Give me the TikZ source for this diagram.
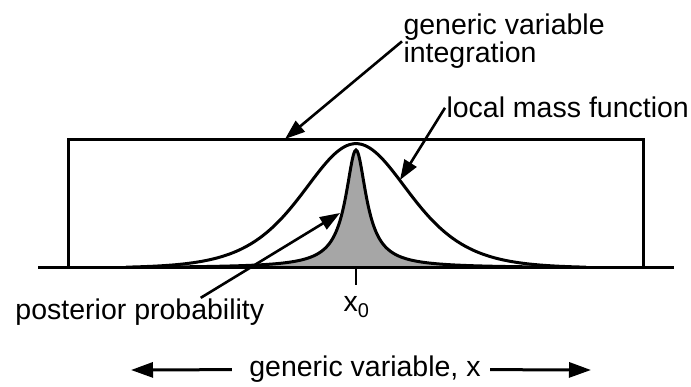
\documentclass[tikz,border=0pt]{standalone}
\usepackage{fontspec}
\setmainfont{Liberation Sans}
\usetikzlibrary{arrows.meta}

\tikzset{
    lbl/.style={inner sep=0pt, font=\fontsize{28.5}{28}\selectfont},
    lead/.style={line width=2.6pt, -{Triangle[length=20pt,width=14pt]}},
    axisarrow/.style={line width=3pt, -{Triangle[length=22pt,width=15pt]}},
}

\begin{document}
\begin{tikzpicture}[x=1pt,y=-1pt,line width=3pt]
    \useasboundingbox (0,0) rectangle (691,387);

    % posterior probability
    \fill[black!35] plot[domain=-200:200,samples=301]
        ({356+\x},{268-118*exp(-0.85*ln(1+(\x/11.5)^2))}) -- cycle;
    \draw plot[domain=-200:200,samples=301]
        ({356+\x},{268-118*exp(-0.85*ln(1+(\x/11.5)^2))});

    % local mass function
    \draw plot[domain=-230:230,samples=201]
        ({356+\x},{268-124.4/(cosh(\x/72))^2});

    % integration box, axis, x0 tick
    \draw (68,268) -- (68,140) -- (643,140) -- (643,268);
    \draw (38,268) -- (674,268);
    \draw[line width=2.5pt] (356,268) -- (356,285);

    % labels
    \node[lbl, anchor=north west, align=left] (gvi) at (402,12.6) {generic variable\\integration};
    \node[lbl, anchor=base west] (lmf) at (445,118) {local mass function};
    \node[lbl, anchor=base west] (pp) at (14,320) {posterior probability};
    \node[lbl, anchor=base] (x0) at (356.5,312) {x\textsubscript{0}};
    \node[lbl, anchor=base] (gvx) at (365,377) {generic variable, x};

    % arrows
    \coordinate (boxtop) at (285,139);
    \coordinate (massside) at (400,180);
    \coordinate (peakside) at (340,213);
    \coordinate (leftend) at (131,370);
    \coordinate (rightend) at (591,370);
    \draw[lead] (gvi.west) -- (boxtop);
    \draw[lead] (lmf.west) -- (massside);
    \draw[lead] ([xshift=-65pt]pp.north east) -- (peakside);
    \draw[axisarrow] ([xshift=-16pt]gvx.west) -- (leftend);
    \draw[axisarrow] ([xshift=8pt]gvx.east) -- (rightend);
\end{tikzpicture}
\end{document}
